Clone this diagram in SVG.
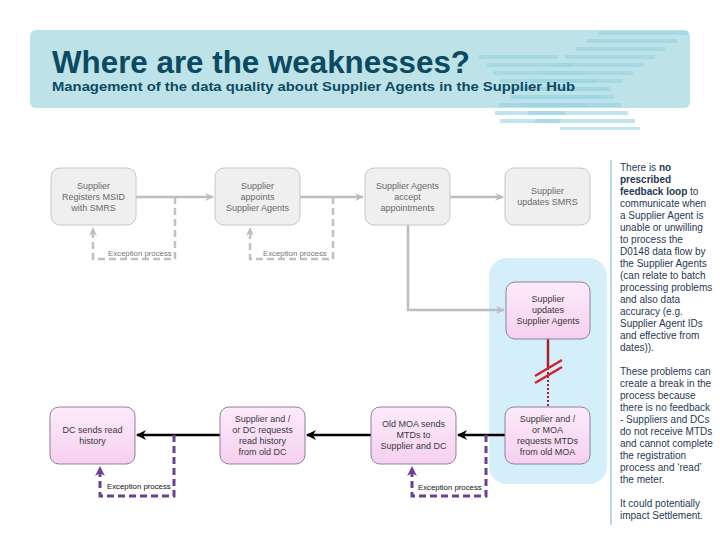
<svg xmlns="http://www.w3.org/2000/svg" width="720" height="540" viewBox="0 0 720 540">
<style>
.gn{fill:#efefef;stroke:#c6c6c6;stroke-width:1}
.pn{fill:url(#pink);stroke:#8f7f9f;stroke-width:1}
.gt{font-family:"Liberation Sans",Arial,sans-serif;font-size:9px;fill:#6a6a6a;text-anchor:middle}
.pt{font-family:"Liberation Sans",Arial,sans-serif;font-size:9px;fill:#3a3a3a;text-anchor:middle}
.ex{font-family:"Liberation Sans",Arial,sans-serif;font-size:7.8px;fill:#777}
.exk{font-family:"Liberation Sans",Arial,sans-serif;font-size:7.8px;fill:#111}
.side{font-family:"Liberation Sans",Arial,sans-serif;font-size:10px;fill:#1f3a55}
.ga{fill:none;stroke:#bdbdbd;stroke-width:2.5}
.gd{fill:none;stroke:#c0c0c0;stroke-width:2.5;stroke-dasharray:7,4}
.ba{fill:none;stroke:#000;stroke-width:2.5}
.pd{fill:none;stroke:#6b3f96;stroke-width:3;stroke-dasharray:7,4}
.bar{fill:#98d3e3;opacity:.6}
</style>
<defs>
<linearGradient id="pink" x1="0" y1="0" x2="0" y2="1">
<stop offset="0" stop-color="#fdebfb"/>
<stop offset="1" stop-color="#f6d0ef"/>
</linearGradient>
<marker id="mg" markerWidth="10" markerHeight="10" refX="8" refY="5" orient="auto" markerUnits="userSpaceOnUse">
<path d="M0,1 L9,5 L0,9 L3,5 z" fill="#bdbdbd"/>
</marker>
<marker id="mk" markerWidth="12" markerHeight="12" refX="9" refY="6" orient="auto" markerUnits="userSpaceOnUse">
<path d="M0,1 L10,6 L0,11 L3,6 z" fill="#000"/>
</marker>
<marker id="mp" markerWidth="12" markerHeight="12" refX="9" refY="6" orient="auto" markerUnits="userSpaceOnUse">
<path d="M0,1 L10,6 L0,11 L3,6 z" fill="#6b3f96"/>
</marker>
</defs>
<rect width="720" height="540" fill="#fff"/>

<g id="header">
<rect x="30" y="30" width="660" height="78" rx="6" fill="#bde2e8"/>
<g>
<rect class="bar" x="598" y="31" width="90" height="4"/>
<rect class="bar" x="587" y="39" width="90" height="4"/>
<rect class="bar" x="576" y="47" width="90" height="4"/>
<rect class="bar" x="565" y="55" width="90" height="4"/>
<rect class="bar" x="554" y="63" width="90" height="4"/>
<rect class="bar" x="543" y="71" width="90" height="4"/>
<rect class="bar" x="532" y="79" width="90" height="4"/>
<rect class="bar" x="521" y="87" width="90" height="4"/>
<rect class="bar" x="510" y="95" width="90" height="4"/>
<rect class="bar" x="499" y="103" width="90" height="4"/>
<rect class="bar" x="478" y="55" width="80" height="4"/>
<rect class="bar" x="486" y="63" width="85" height="4"/>
<rect class="bar" x="493" y="71" width="90" height="4"/>
<rect class="bar" x="500" y="79" width="95" height="4"/>
<rect class="bar" x="507" y="87" width="100" height="4"/>
<rect class="bar" x="514" y="95" width="100" height="4"/>
<rect class="bar" x="521" y="103" width="100" height="4"/>
<rect class="bar" x="528" y="111" width="100" height="4" opacity=".45"/>
<rect class="bar" x="495" y="111" width="70" height="4" opacity=".35"/>
<rect class="bar" x="535" y="119" width="100" height="4" opacity=".4"/>
<rect class="bar" x="500" y="119" width="60" height="4" opacity=".3"/>
<rect class="bar" x="560" y="127" width="80" height="3" opacity=".35"/>
</g>
<text x="52" y="73" font-family="Liberation Sans,Arial,sans-serif" font-size="31" font-weight="bold" fill="#0c4a62" textLength="418" lengthAdjust="spacingAndGlyphs">Where are the weaknesses?</text>
<text x="52" y="91" font-family="Liberation Sans,Arial,sans-serif" font-size="13" font-weight="bold" fill="#0c4a62" textLength="523" lengthAdjust="spacingAndGlyphs">Management of the data quality about Supplier Agents in the Supplier Hub</text>
</g>

<rect id="highlight" x="489" y="258" width="118" height="226" rx="18" fill="#d4effa"/>
<line x1="611" y1="160" x2="611" y2="525" stroke="#9fd0da" stroke-width="1.5"/>

<g id="connectors">
<path class="ga" d="M136,197 H213" marker-end="url(#mg)"/>
<path class="ga" d="M300,197 H363" marker-end="url(#mg)"/>
<path class="ga" d="M450,197 H503" marker-end="url(#mg)"/>
<path class="gd" d="M175,197 V259 H93 V228" marker-end="url(#mg)"/>
<path class="gd" d="M333,197 V259 H250 V228" marker-end="url(#mg)"/>
<path class="ga" d="M408,225 V310 H504" marker-end="url(#mg)"/>
<path d="M548,339 V368" stroke="#a8202c" stroke-width="2.5" fill="none"/>
<path d="M548,368 V407" stroke="#a8202c" stroke-width="2" stroke-dasharray="2,2" fill="none"/>
<path d="M535,376 L562,360 M535,383 L562,367" stroke="#d42030" stroke-width="2.5" fill="none"/>
<path class="ba" d="M505,435 H458" marker-end="url(#mk)"/>
<path class="ba" d="M371,435 H307" marker-end="url(#mk)"/>
<path class="ba" d="M220,435 H137" marker-end="url(#mk)"/>
<path class="pd" d="M174,435 V496 H100 V467" marker-end="url(#mp)"/>
<path class="pd" d="M486,435 V496 H412 V467" marker-end="url(#mp)"/>
<text class="ex" x="108" y="256">Exception process</text>
<text class="ex" x="263" y="256">Exception process</text>
<text class="exk" x="107" y="489">Exception process</text>
<text class="exk" x="418" y="490">Exception process</text>
</g>

<g id="n1"><rect class="gn" x="51" y="168" width="85" height="57" rx="9"/>
<text class="gt" x="93.5" y="189">Supplier</text><text class="gt" x="93.5" y="200">Registers MSID</text><text class="gt" x="93.5" y="211">with SMRS</text></g>
<g id="n2"><rect class="gn" x="215" y="168" width="85" height="57" rx="9"/>
<text class="gt" x="257.5" y="189">Supplier</text><text class="gt" x="257.5" y="200">appoints</text><text class="gt" x="257.5" y="211">Supplier Agents</text></g>
<g id="n3"><rect class="gn" x="365" y="168" width="85" height="57" rx="9"/>
<text class="gt" x="407.5" y="189">Supplier Agents</text><text class="gt" x="407.5" y="200">accept</text><text class="gt" x="407.5" y="211">appointments</text></g>
<g id="n4"><rect class="gn" x="505" y="168" width="85" height="57" rx="9"/>
<text class="gt" x="547.5" y="194">Supplier</text><text class="gt" x="547.5" y="205">updates SMRS</text></g>
<g id="n5"><rect class="pn" x="506" y="282" width="84" height="57" rx="9"/>
<text class="pt" x="548" y="302">Supplier</text><text class="pt" x="548" y="313">updates</text><text class="pt" x="548" y="324">Supplier Agents</text></g>
<g id="nA"><rect class="pn" x="50" y="407" width="85" height="57" rx="9"/>
<text class="pt" x="92.5" y="433">DC sends read</text><text class="pt" x="92.5" y="444">history</text></g>
<g id="nB"><rect class="pn" x="220" y="407" width="85" height="57" rx="9"/>
<text class="pt" x="262.5" y="422">Supplier and /</text><text class="pt" x="262.5" y="433">or DC requests</text><text class="pt" x="262.5" y="444">read history</text><text class="pt" x="262.5" y="455">from old DC</text></g>
<g id="nC"><rect class="pn" x="371" y="407" width="85" height="57" rx="9"/>
<text class="pt" x="413.5" y="427">Old MOA sends</text><text class="pt" x="413.5" y="438">MTDs to</text><text class="pt" x="413.5" y="449">Supplier and DC</text></g>
<g id="nD"><rect class="pn" x="505" y="407" width="85" height="57" rx="9"/>
<text class="pt" x="547.5" y="422">Supplier and /</text><text class="pt" x="547.5" y="433">or MOA</text><text class="pt" x="547.5" y="444">requests MTDs</text><text class="pt" x="547.5" y="455">from old MOA</text></g>

<g id="notes" class="side">
<text x="620" y="171">There is <tspan font-weight="bold">no</tspan></text>
<text x="620" y="183" font-weight="bold">prescribed</text>
<text x="620" y="195"><tspan font-weight="bold">feedback loop</tspan> to</text>
<text x="620" y="207">communicate when</text>
<text x="620" y="219">a Supplier Agent is</text>
<text x="620" y="231">unable or unwilling</text>
<text x="620" y="243">to process the</text>
<text x="620" y="255">D0148 data flow by</text>
<text x="620" y="267">the Supplier Agents</text>
<text x="620" y="279">(can relate to batch</text>
<text x="620" y="291">processing problems</text>
<text x="620" y="303">and also data</text>
<text x="620" y="315">accuracy (e.g.</text>
<text x="620" y="327">Supplier Agent IDs</text>
<text x="620" y="339">and effective from</text>
<text x="620" y="351">dates)).</text>
<text x="620" y="375">These problems can</text>
<text x="620" y="387">create a break in the</text>
<text x="620" y="399">process because</text>
<text x="620" y="411">there is no feedback</text>
<text x="620" y="423">- Suppliers and DCs</text>
<text x="620" y="435">do not receive MTDs</text>
<text x="620" y="447">and cannot complete</text>
<text x="620" y="459">the registration</text>
<text x="620" y="471">process and ‘read’</text>
<text x="620" y="483">the meter.</text>
<text x="620" y="507">It could potentially</text>
<text x="620" y="519">impact Settlement.</text>
</g>
</svg>
